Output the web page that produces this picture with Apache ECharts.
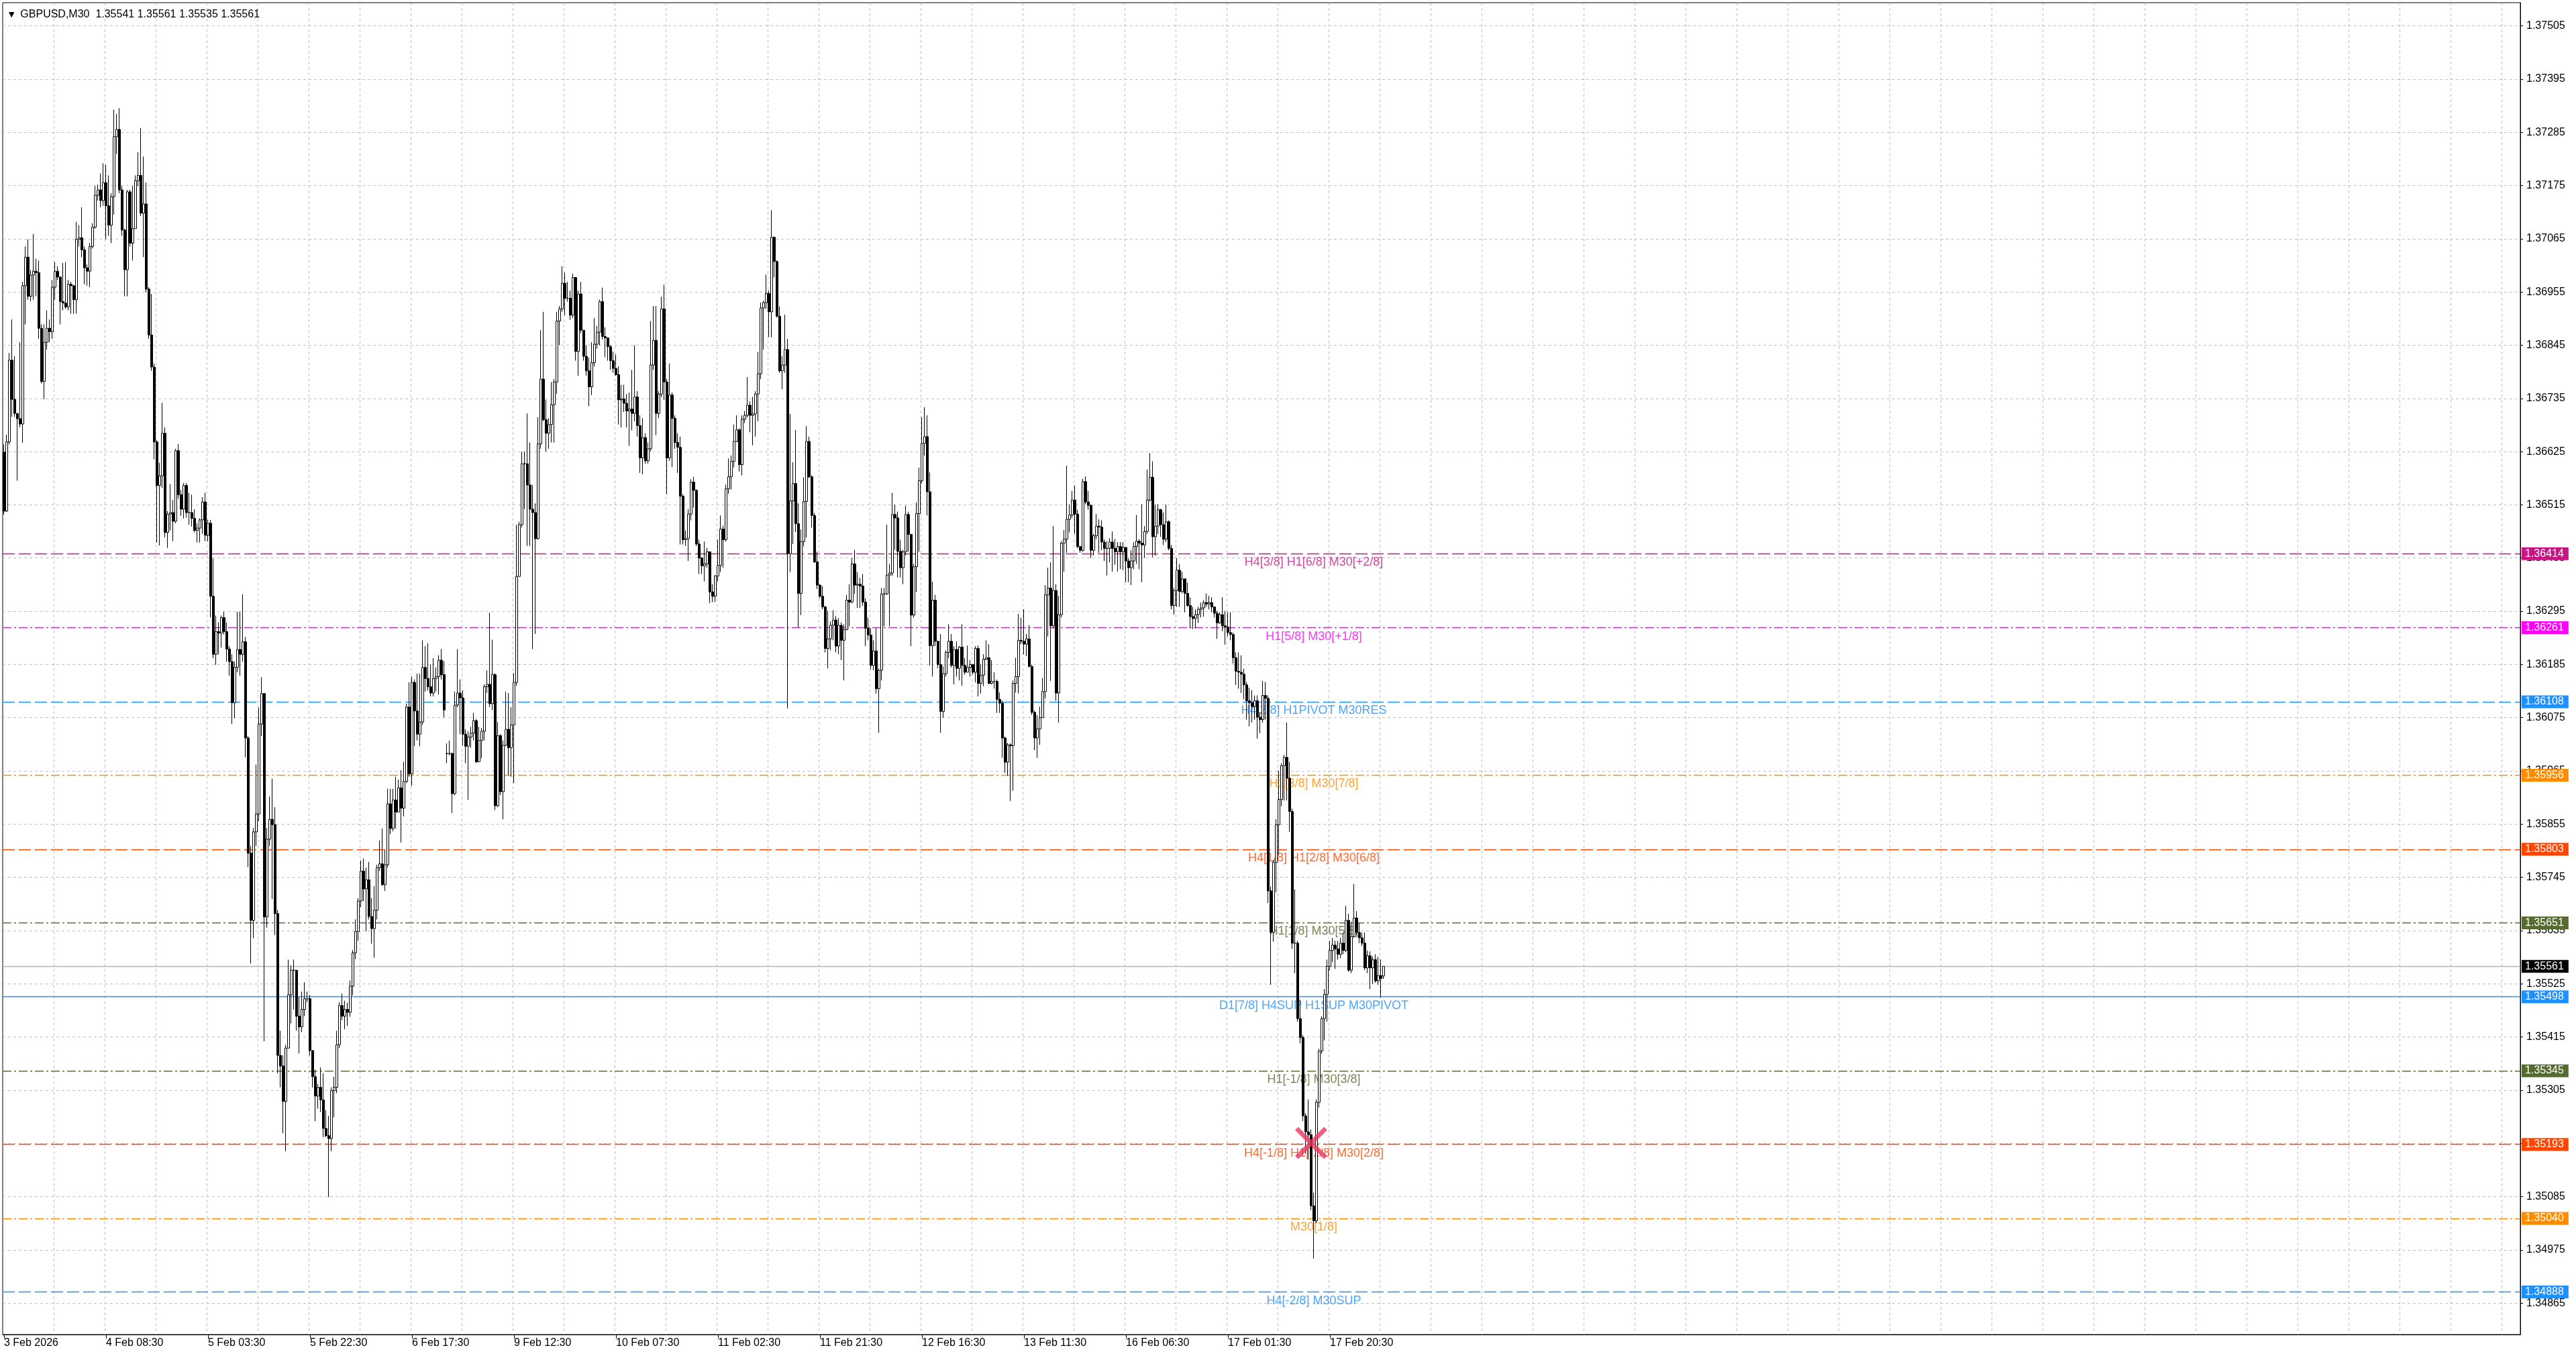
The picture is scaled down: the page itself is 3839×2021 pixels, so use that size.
<!DOCTYPE html>
<html lang="en">
<head>
<meta charset="UTF-8">
<title>GBPUSD,M30</title>
<script src="https://cdn.jsdelivr.net/npm/echarts@6/dist/echarts.min.js"></script>
<style>
    html, body { margin: 0; padding: 0; background: #fff; }
    #chart { width: 3839px; height: 2021px; }
</style>
</head>
<body>
<div id="chart"></div>
<script>
    // prices below are points above 1.30000 (1 point = 0.00001), one entry per M30 bar
    var BASE = 1.3, POINT = 0.00001;
    var symbolName = 'GBPUSD,M30';

    var closes = [
        6502,6645,6814,6733,6704,6693,6682,6968,7027,6946,
        6990,6998,6995,6880,6770,6851,6880,6873,6965,6998,
        6986,6935,6932,6924,6971,6968,6939,7064,7067,7042,
        7005,6998,7049,7089,7155,7166,7144,7181,7133,7093,
        7152,7276,7291,7166,7083,7001,7162,7056,7086,7185,
        7196,7118,7137,6961,6866,6800,6645,6555,6575,6663,
        6458,6496,6499,6481,6627,6536,6506,6555,6499,6499,
        6487,6462,6467,6484,6521,6452,6477,6326,6206,6253,
        6250,6282,6253,6217,6191,6106,6179,6216,6206,6232,
        6033,5795,5656,5839,5876,6062,6125,5663,5824,5865,
        5854,5670,5377,5355,5282,5392,5502,5553,5553,5458,
        5436,5472,5494,5494,5387,5333,5293,5311,5285,5226,
        5211,5205,5304,5311,5399,5480,5458,5472,
        5466,5520,5589,5633,5696,5758,5721,5740,5664,5639,
        5677,5765,5773,5730,5771,5897,5846,5905,5880,5930,
        5888,5943,6097,5959,6148,6089,6041,6066,6179,6156,
        6139,6126,6156,6160,6194,6164,6091,6001,6001,5918,
        6101,6126,6116,6041,6016,6035,6043,6069,5984,6028,
        6047,6139,6144,6104,6164,5893,6038,5922,6018,6051,
        6013,6060,6148,6367,6474,6600,6600,6556,6506,6499,
        6445,6641,6775,6691,6663,6681,6722,6769,6895,6920,
        6973,6942,6942,6907,6985,6832,6951,6876,6822,6792,
        6759,6809,6847,6872,6935,6863,6860,6842,6813,6797,
        6784,6732,6734,6725,6709,6713,6704,6738,6679,6612,
        6654,6606,6631,6804,6855,6704,6744,6920,6769,6612,
        6742,6694,6644,6634,6533,6443,6445,6496,6562,
        6545,6434,6405,6389,6393,6418,6335,6326,6368,6390,
        6465,6443,6548,6573,6605,6646,6670,6598,6692,6700,
        6721,6700,6703,6744,6786,6922,6933,6952,6914,7068,
        7018,6905,6792,6804,6836,6414,6523,6559,6476,6332,
        6439,6522,6646,6573,6493,6397,6349,6326,6304,6218,
        6238,6266,6277,6223,6266,6235,6257,6318,6314,6393,
        6349,6351,6347,6314,6260,6246,6183,6213,6135,6173,
        6331,6331,6370,6374,6495,6488,6419,6385,6418,6495,
        6454,6287,6387,6497,6565,6642,6656,6542,6224,6318,
        6233,6185,6088,6166,6210,6233,6183,6216,6177,6221,
        6183,6169,6179,6185,6169,6218,6146,6163,6196,6199,
        6146,6150,6150,6113,6105,6033,5983,6019,6017,6146,
        6160,6235,6233,6227,6238,6181,6086,6033,6052,6075,
        6129,6329,6343,6265,6338,6126,6288,6436,6444,6485,
        6494,6525,6496,6429,6421,6563,6521,6514,6421,6451,
        6471,6469,6438,6425,6425,6438,6425,6418,6429,6418,
        6427,6399,6385,6399,6429,6440,6436,6432,6460,6525,
        6572,6449,6471,6505,6474,6444,6480,6425,6307,6338,
        6380,6336,6362,6332,6307,6284,6280,6288,6299,6302,
        6313,6310,6313,6304,6291,6271,6288,6265,6262,6251,
        6247,6199,6171,6169,6165,6143,6110,6106,6098,6110,
        6076,6071,6121,6115,5717,5631,5776,5854,5906,5976,
        5993,5950,5881,5609,5609,5453,5414,5252,5219,5213,
        5066,5035,5280,5386,5453,5503,5561,5594,5605,5597,
        5586,5609,5594,5656,5553,5623,5661,5631,5620,5609,
        5558,5583,5558,5575,5531,5542,5536,5561
    ];
    var highs = [
        6640,6660,6829,6898,6822,6704,6851,6976,7049,7064,
        7000,7075,7024,7020,6888,6888,6917,6898,6980,7017,
        7008,6939,7015,7017,6980,6976,6968,7100,7093,7130,
        7049,7012,7056,7097,7174,7177,7200,7221,7218,7196,
        7159,7332,7323,7335,7174,7086,7166,7166,7174,7196,
        7244,7294,7235,7181,6965,6951,6807,6649,6602,6726,
        6675,6502,6558,6525,6631,6641,6546,6560,6560,6540,
        6536,6506,6477,6487,6531,6540,6484,6484,6404,6286,
        6272,6286,6294,6272,6223,6206,6191,6294,6294,6330,
        6242,6037,5810,5847,5978,6096,6159,6121,5847,5912,
        5949,5890,5678,5428,5377,5399,5575,5563,5575,5531,
        5498,5509,5528,5509,5502,5384,5347,5318,5352,5340,
        5264,5252,5311,5333,5428,5487,5505,5490,
        5486,5532,5595,5658,5702,5780,5784,5765,5777,5702,
        5727,5771,5821,5846,5802,5928,5928,5928,5953,5947,
        5966,5984,6104,6148,6160,6154,6166,6166,6235,6223,
        6229,6185,6198,6179,6204,6217,6192,6022,6028,6003,
        6129,6217,6154,6131,6051,6047,6056,6085,6072,6056,
        6054,6144,6173,6292,6236,6167,6066,6041,6028,6129,
        6126,6097,6167,6474,6480,6625,6625,6704,6644,6556,
        6518,6696,6876,6914,6732,6694,6769,6775,6914,6926,
        7008,6995,6976,6958,6993,6907,6958,6976,6876,6845,
        6819,6851,6901,6885,6939,6964,6882,6860,6845,6832,
        6826,6801,6763,6763,6744,6747,6794,6845,6750,6700,
        6694,6663,6644,6895,6926,6926,6750,6945,6970,6775,
        6807,6747,6700,6663,6656,6537,6462,6506,6568,
        6573,6547,6443,6407,6439,6426,6393,6351,6370,6443,
        6493,6472,6557,6611,6617,6681,6700,6673,6700,6709,
        6779,6729,6738,6750,6831,6933,6937,6991,6958,7124,
        7070,7020,6925,6822,6908,6858,6703,6603,6670,6518,
        6464,6572,6678,6656,6576,6498,6418,6351,6347,6306,
        6296,6274,6297,6285,6281,6272,6268,6329,6351,6405,
        6422,6376,6364,6372,6322,6282,6260,6235,6260,6177,
        6343,6343,6474,6393,6540,6515,6501,6443,6422,6513,
        6501,6454,6393,6520,6592,6696,6717,6700,6582,6356,
        6329,6233,6248,6181,6214,6268,6248,6223,6233,6223,
        6268,6198,6224,6194,6185,6223,6224,6185,6206,6235,
        6227,6194,6169,6154,6127,6110,6036,6023,6022,6152,
        6199,6289,6282,6299,6248,6266,6185,6090,6080,6098,
        6157,6349,6385,6396,6471,6351,6327,6440,6463,6596,
        6516,6544,6555,6505,6429,6569,6574,6544,6516,6455,
        6496,6485,6483,6444,6440,6446,6460,6444,6438,6438,
        6438,6425,6405,6421,6438,6494,6444,6516,6471,6588,
        6622,6605,6516,6516,6507,6499,6516,6483,6432,6343,
        6405,6393,6377,6362,6354,6324,6304,6299,6304,6313,
        6318,6332,6327,6324,6304,6296,6293,6324,6296,6293,
        6293,6251,6210,6210,6204,6176,6149,6137,6132,6121,
        6121,6087,6151,6149,6121,5726,5781,5865,5965,5981,
        5998,6065,5984,5887,5720,5614,5492,5419,5258,5286,
        5224,5093,5286,5391,5458,5514,5575,5614,5620,5614,
        5614,5620,5631,5686,5670,5653,5731,5675,5650,5631,
        5631,5594,5592,5581,5586,5581,5575,5561
    ];
    var lows = [
        6495,6500,6640,6697,6697,6565,6675,6643,6888,6939,
        6936,6939,6946,6858,6766,6733,6836,6851,6858,6939,
        6980,6888,6917,6920,6917,6910,6910,6910,7049,7027,
        6971,6968,6965,7045,7086,7144,7130,7133,7064,7071,
        7056,7115,7240,7159,7071,6946,6946,7049,7020,7086,
        7174,7112,7027,6954,6858,6792,6609,6437,6431,6550,
        6448,6426,6462,6440,6477,6528,6492,6487,6489,6474,
        6470,6458,6437,6437,6455,6440,6440,6282,6198,6184,
        6206,6220,6247,6191,6162,6062,6074,6169,6162,6191,
        5993,5766,5567,5619,5810,5861,6037,5406,5641,5810,
        5700,5626,5340,5311,5216,5179,5392,5443,5472,5428,
        5381,5425,5458,5487,5377,5311,5241,5267,5260,5208,
        5208,5084,5179,5249,5299,5392,5450,5431,
        5438,5457,5501,5576,5614,5683,5696,5633,5658,5608,
        5579,5658,5758,5727,5717,5765,5834,5840,5846,5884,
        5817,5871,5940,5953,5934,6016,6028,6016,6060,6129,
        6131,6119,6119,6129,6123,6154,6076,5981,5997,5878,
        5915,6097,6041,6018,5981,5905,6013,6028,5981,5988,
        5991,6028,6126,6097,6091,5884,5890,5915,5865,6016,
        5956,5953,5940,6141,6367,6468,6506,6430,6430,6217,
        6248,6443,6631,6688,6625,6631,6644,6644,6744,6845,
        6914,6907,6935,6897,6901,6813,6782,6870,6813,6782,
        6719,6742,6801,6838,6845,6857,6820,6813,6794,6788,
        6782,6681,6675,6707,6675,6637,6669,6688,6656,6581,
        6578,6600,6600,6625,6794,6659,6694,6738,6732,6537,
        6606,6593,6631,6581,6433,6433,6430,6399,6483,
        6509,6430,6372,6372,6357,6385,6312,6314,6314,6356,
        6376,6385,6439,6538,6547,6592,6645,6584,6576,6684,
        6696,6665,6638,6656,6688,6775,6836,6920,6862,6861,
        6985,6902,6788,6754,6788,6094,6376,6434,6459,6262,
        6287,6429,6447,6570,6468,6395,6341,6322,6299,6210,
        6177,6214,6235,6210,6206,6194,6152,6256,6264,6312,
        6331,6302,6302,6306,6223,6235,6175,6173,6125,6044,
        6152,6264,6329,6264,6368,6422,6365,6365,6351,6410,
        6418,6223,6282,6335,6418,6559,6617,6493,6183,6160,
        6223,6177,6044,6075,6160,6198,6179,6144,6160,6152,
        6141,6164,6175,6160,6164,6148,6119,6125,6140,6194,
        6144,6144,6135,6085,6085,5992,5961,5955,5903,5924,
        6127,6125,6227,6206,6202,6179,6081,6008,5992,6019,
        6080,6115,6243,6151,6260,6110,6065,6282,6377,6416,
        6458,6488,6455,6425,6416,6418,6516,6505,6405,6410,
        6444,6416,6421,6399,6369,6396,6377,6391,6377,6382,
        6380,6355,6355,6349,6382,6393,6382,6355,6405,6455,
        6522,6407,6410,6455,6449,6432,6438,6421,6299,6288,
        6304,6304,6332,6293,6304,6260,6258,6260,6271,6282,
        6284,6304,6299,6293,6282,6238,6269,6254,6226,6243,
        6235,6187,6143,6135,6126,6113,6071,6057,6065,6071,
        6032,6043,6065,6071,5692,5523,5612,5714,5792,5892,
        5904,5904,5839,5597,5547,5447,5402,5241,5174,5163,
        5057,4957,5030,5269,5380,5408,5447,5553,5570,5556,
        5575,5578,5586,5590,5550,5547,5620,5625,5609,5603,
        5553,5547,5514,5525,5527,5523,5497,5535
    ];
    // a bar opens at the previous close except where listed here (first bar, weekend gap, live bar)
    var gapOpens = {0: 6624, 165: 6001, 514: 5541};

    // time axis: one label every 38 bars, chart shifted so the right side stays empty
    var xTickLabels = ['3 Feb 2026', '4 Feb 08:30', '5 Feb 03:30', '5 Feb 22:30', '6 Feb 17:30',
        '9 Feb 12:30', '10 Feb 07:30', '11 Feb 02:30', '11 Feb 21:30', '12 Feb 16:30',
        '13 Feb 11:30', '16 Feb 06:30', '17 Feb 01:30', '17 Feb 20:30'];
    var LABEL_STEP = 38, GRID_STEP = 19, SLOTS = 938;

    var yTicks = [1.34865, 1.34975, 1.35085, 1.35195, 1.35305, 1.35415, 1.35525, 1.35635,
        1.35745, 1.35855, 1.35965, 1.36075, 1.36185, 1.36295, 1.36405, 1.36515, 1.36625,
        1.36735, 1.36845, 1.36955, 1.37065, 1.37175, 1.37285, 1.37395, 1.37505];

    // Murrey-style levels drawn by the indicator
    var levelPrices = [1.36414, 1.36261, 1.36108, 1.35956, 1.35803, 1.35651,
        1.35498, 1.35345, 1.35193, 1.35040, 1.34888];
    var levelNames = ['H4[3/8] H1[6/8] M30[+2/8]', 'H1[5/8] M30[+1/8]', 'H4[2/8] H1PIVOT M30RES',
        'H1[3/8] M30[7/8]', 'H4[1/8] H1[2/8] M30[6/8]', 'H1[1/8] M30[5/8]',
        'D1[7/8] H4SUP H1SUP M30PIVOT', 'H1[-1/8] M30[3/8]', 'H4[-1/8] H1[-2/8] M30[2/8]',
        'M30[1/8]', 'H4[-2/8] M30SUP'];
    var levelTextBar = 488;
    var stopMark = [487, 1.35196];

    // styles kept apart from the values
    var DASH = [18, 6], DASHDOT = [13, 4, 3, 4];
    var levelStyles = [
        {color: '#C71585', dash: DASH}, {color: '#FF00FF', dash: DASHDOT},
        {color: '#1E90FF', dash: DASH}, {color: '#FF8C00', dash: DASHDOT},
        {color: '#FF4500', dash: DASH}, {color: '#556B2F', dash: DASHDOT},
        {color: '#1E90FF', dash: 'solid'}, {color: '#556B2F', dash: DASHDOT},
        {color: '#FF4500', dash: DASH}, {color: '#FF8C00', dash: DASHDOT},
        {color: '#1E90FF', dash: DASH}
    ];
    var FONT = 'Liberation Sans';

    function px(p) { return +(BASE + p * POINT).toFixed(5); }
    function fmt(v) { return v.toFixed(5); }

    var candles = [];
    for (var i = 0; i < closes.length; i++) {
        var o = gapOpens[i] !== undefined ? gapOpens[i] : closes[i - 1];
        var c = closes[i];
        var lo = Math.min(lows[i], o, c), hi = Math.max(highs[i], o, c);
        candles.push([px(o), px(c), px(lo), px(hi)]);
    }
    var last = candles[candles.length - 1];

    var categories = [];
    for (var j = 0; j < SLOTS; j++) categories.push(String(j));
    var lastLabelIdx = (xTickLabels.length - 1) * LABEL_STEP;
    function isLabelIdx(idx) { return idx % LABEL_STEP === 0 && idx <= lastLabelIdx; }

    var gridLines = yTicks.map(function (v) { return {yAxis: v}; });
    var levelLines = levelPrices.map(function (p, k) {
        return {
            yAxis: p,
            lineStyle: {color: levelStyles[k].color, type: levelStyles[k].dash, width: 1.3},
            label: {backgroundColor: levelStyles[k].color}
        };
    });
    levelLines.push({
        yAxis: last[1],
        lineStyle: {color: '#B4B4B4', type: 'solid', width: 1.3},
        label: {backgroundColor: '#000'}
    });
    var levelText = levelPrices.map(function (p, k) {
        return {
            value: [levelTextBar, p],
            label: {formatter: levelNames[k], color: levelStyles[k].color}
        };
    });

    // title shows O H L C of the live bar
    var titleText = '{tri|▼}  ' + symbolName + '  ' +
        [last[0], last[3], last[2], last[1]].map(fmt).join(' ');

    var myChart = echarts.init(document.getElementById('chart'));
    var option = {
        animation: false,
        backgroundColor: '#fff',
        title: {
            text: titleText,
            left: 8, top: 9,
            textStyle: {
                fontFamily: FONT, fontSize: 16, fontWeight: 'normal', color: '#000',
                rich: {tri: {fontFamily: 'DejaVu Sans', fontSize: 11, color: '#000'}}
            }
        },
        grid: {
            left: 4, right: 83, top: 4, bottom: 32,
            show: true, borderColor: '#000', borderWidth: 1, backgroundColor: '#fff'
        },
        xAxis: {
            type: 'category',
            data: categories,
            boundaryGap: true,
            axisLine: {lineStyle: {color: '#000', width: 1}},
            axisTick: {
                show: true, alignWithLabel: true, length: 6,
                interval: function (idx) { return isLabelIdx(idx); },
                lineStyle: {color: '#000'}
            },
            axisLabel: {
                interval: function (idx) { return isLabelIdx(idx); },
                formatter: function (value, idx) { return xTickLabels[idx / LABEL_STEP] || ''; },
                align: 'left', margin: 5,
                fontFamily: FONT, fontSize: 16, color: '#000'
            },
            splitLine: {
                show: true,
                interval: function (idx) { return idx > 0 && idx % GRID_STEP === 0; },
                lineStyle: {color: '#C0C0C0', type: [4, 4], width: 1}
            }
        },
        yAxis: {
            type: 'value',
            position: 'right',
            min: 1.348, max: 1.37553,
            scale: true,
            splitLine: {show: false},
            axisLine: {show: true, lineStyle: {color: '#000', width: 1}},
            axisTick: {show: true, length: 4, customValues: yTicks, lineStyle: {color: '#000'}},
            axisLabel: {
                customValues: yTicks,
                formatter: function (v) { return fmt(v); },
                margin: 9, fontFamily: FONT, fontSize: 16, color: '#000'
            }
        },
        series: [
            {
                name: 'grid',
                type: 'line',
                data: [],
                z: 1,
                markLine: {
                    z: 1, silent: true, symbol: ['none', 'none'], precision: 5,
                    label: {show: false},
                    lineStyle: {color: '#C0C0C0', type: [4, 4], width: 1},
                    data: gridLines
                }
            },
            {
                name: 'levels',
                type: 'line',
                data: [],
                z: 1,
                markLine: {
                    z: 1, silent: true, symbol: ['none', 'none'], precision: 5,
                    label: {
                        show: true, position: 'end', distance: 2,
                        formatter: function (p) { return fmt(p.value); },
                        color: '#fff', fontFamily: FONT, fontSize: 16,
                        padding: [2, 7, 1, 5]
                    },
                    data: levelLines
                }
            },
            {
                name: 'level text',
                type: 'scatter',
                z: 2,
                silent: true,
                symbolSize: 0,
                itemStyle: {color: 'rgba(0,0,0,0)'},
                label: {show: true, position: 'bottom', distance: 4, fontFamily: FONT, fontSize: 18},
                data: levelText
            },
            {
                name: symbolName,
                type: 'candlestick',
                z: 3,
                barWidth: 3,
                data: candles,
                itemStyle: {
                    color: '#fff', color0: '#000',
                    borderColor: '#000', borderColor0: '#000', borderColorDoji: '#000',
                    borderWidth: 1
                }
            },
            {
                name: 'stop',
                type: 'scatter',
                z: 4,
                silent: true,
                symbol: 'path://M1,0 L5,4 L9,0 L10,1 L6,5 L10,9 L9,10 L5,6 L1,10 L0,9 L4,5 L0,1 Z',
                symbolSize: 48,
                itemStyle: {color: '#E83A62'},
                data: [stopMark]
            }
        ]
    };
    myChart.setOption(option);
</script>
</body>
</html>
